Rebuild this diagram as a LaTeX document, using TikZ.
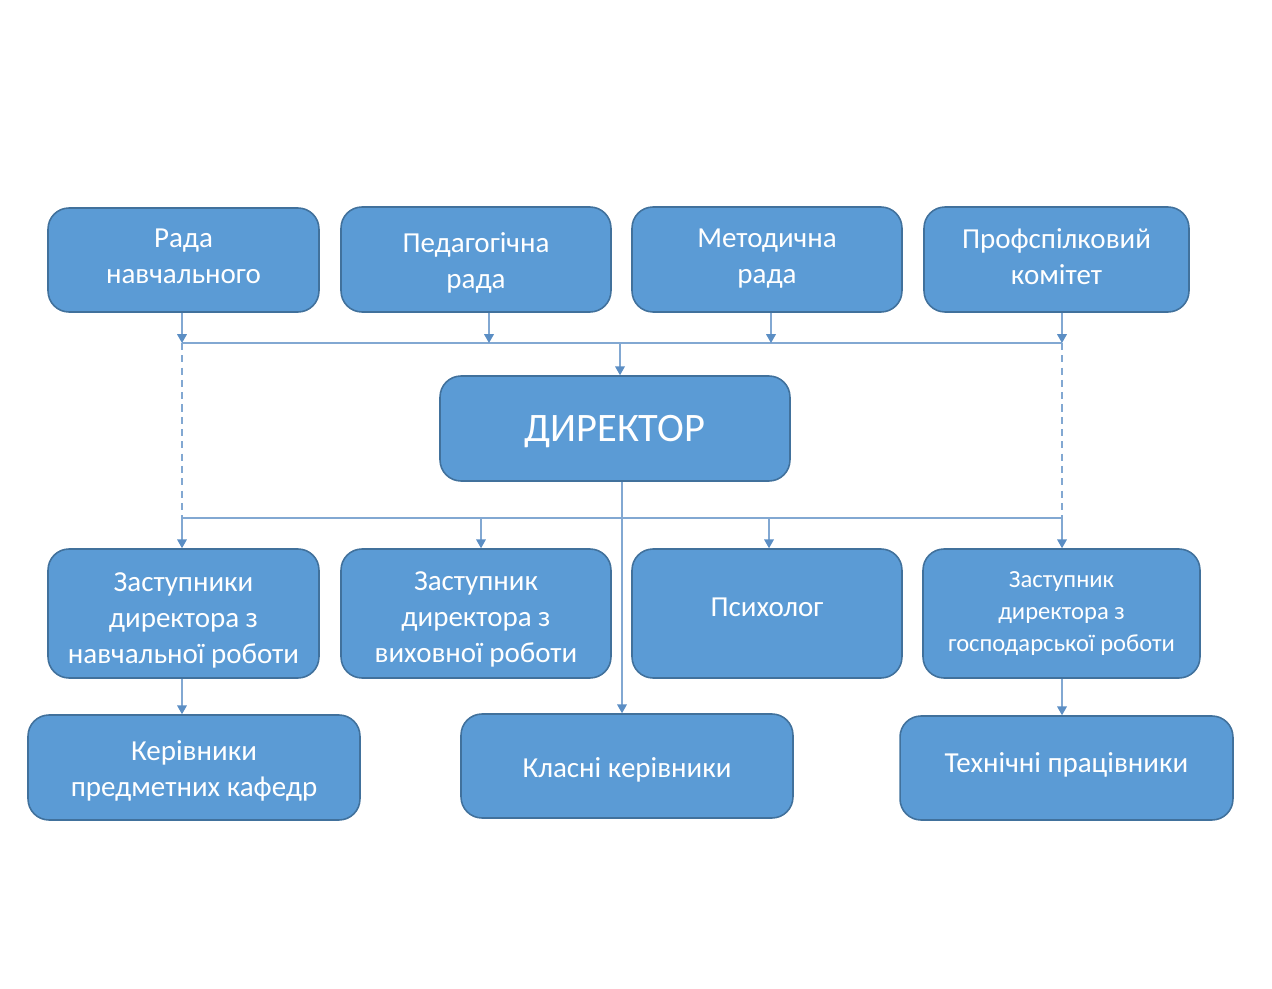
\documentclass[tikz,border=0pt]{standalone}
\usepackage{fontspec}
\setmainfont{Carlito}
\usetikzlibrary{arrows.meta}
\definecolor{boxfill}{HTML}{5B9BD5}
\definecolor{boxline}{HTML}{41719C}
\definecolor{conn}{HTML}{82A8D2}
\definecolor{tipc}{HTML}{5B8EC4}
\newsavebox{\txbox}
\newcommand{\tx}[2]{\sbox{\txbox}{\begin{tabular}{@{}c@{}}#2\end{tabular}}\raisebox{#1}[\ht\txbox][\dp\txbox]{\usebox{\txbox}}}
\tikzset{
  box/.style={draw=boxline, line width=0.9pt, fill=boxfill, rounded corners=0.42cm,
    text=white, align=center, font=\fontsize{16.5}{20.5}\selectfont, inner sep=2pt},
  conn/.style={draw=conn, line width=0.7pt},
  arr/.style={conn, -{Triangle[width=5.5pt,length=5pt,color=tipc]}},
  dconn/.style={conn, dashed, dash pattern=on 4pt off 3pt}
}
\begin{document}
\begin{tikzpicture}[x=0.02cm, y=-0.02cm]
\useasboundingbox (0,0) rectangle (1272,989);
% top row
\node[box, minimum width=5.42cm, minimum height=2.08cm] (r1) at (183.5,260) {\tx{0.9pt}{Рада\\навчального}};
\node[box, minimum width=5.40cm, minimum height=2.10cm] (r2) at (476,259.5) {\tx{-2pt}{Педагогічна\\рада}};
\node[box, minimum width=5.40cm, minimum height=2.10cm] (r3) at (767,259.5) {\tx{0.5pt}{Методична\\рада}};
\node[box, minimum width=5.30cm, minimum height=2.10cm] (r4) at (1056.5,259.5) {\tx{0pt}{Профспілковий\\комітет}};
% director
\node[box, minimum width=7.00cm, minimum height=2.10cm, font=\fontsize{23}{26}\selectfont] (dir) at (615,428.5) {\tx{-2.3pt}{ДИРЕКТОР}};
% second row
\node[box, minimum width=5.42cm, minimum height=2.58cm] (z1) at (183.5,613.5) {\tx{-4pt}{Заступники\\директора з\\навчальної роботи}};
\node[box, minimum width=5.40cm, minimum height=2.58cm] (z2) at (476,613.5) {\tx{-3.4pt}{Заступник\\директора з\\виховної роботи}};
\node[box, minimum width=5.40cm, minimum height=2.58cm] (ps) at (767,613.5) {\tx{2.3pt}{Психолог}};
\node[box, minimum width=5.54cm, minimum height=2.58cm, font=\fontsize{14}{18.2}\selectfont] (z3) at (1061.5,613.5) {\tx{0pt}{Заступник\\директора з\\господарської роботи}};
% third row
\node[box, minimum width=6.64cm, minimum height=2.10cm] (k1) at (194,767.5) {\tx{-2.3pt}{Керівники\\предметних кафедр}};
\node[box, minimum width=6.64cm, minimum height=2.08cm] (k2) at (627,766) {\tx{-2.3pt}{Класні керівники}};
\node[box, minimum width=6.66cm, minimum height=2.08cm] (k3) at (1066.5,768) {\tx{1.7pt}{Технічні працівники}};
% junction coordinates
\coordinate (a1) at (182,343);
\coordinate (a2) at (489,343);
\coordinate (a3) at (771,343);
\coordinate (a4) at (1062,343);
\coordinate (am) at (620,343);
\coordinate (b1) at (182,518);
\coordinate (b2) at (481,518);
\coordinate (b3) at (769,518);
\coordinate (b4) at (1062,518);
\coordinate (dm) at (622,481);
% top bus
\draw[conn] (a1) -- (a4);
\draw[arr] (r1.south -| a1) -- (a1);
\draw[arr] (r2.south -| a2) -- (a2);
\draw[arr] (r3.south -| a3) -- (a3);
\draw[arr] (r4.south -| a4) -- (a4);
\draw[arr] (am) -- (dir.north -| am);
% dashed sides
\draw[dconn] (a1) -- (b1);
\draw[dconn] (a4) -- (b4);
% bottom bus
\draw[conn] (b1) -- (b4);
\draw[arr] (b1) -- (z1.north -| b1);
\draw[arr] (b2) -- (z2.north -| b2);
\draw[arr] (b3) -- (ps.north -| b3);
\draw[arr] (b4) -- (z3.north -| b4);
% director to class leaders
\draw[arr] (dir.south -| dm) -- (k2.north -| dm);
% lower links
\draw[arr] (z1.south -| b1) -- (k1.north -| b1);
\draw[arr] (z3.south -| b4) -- (k3.north -| b4);
\end{tikzpicture}
\end{document}
